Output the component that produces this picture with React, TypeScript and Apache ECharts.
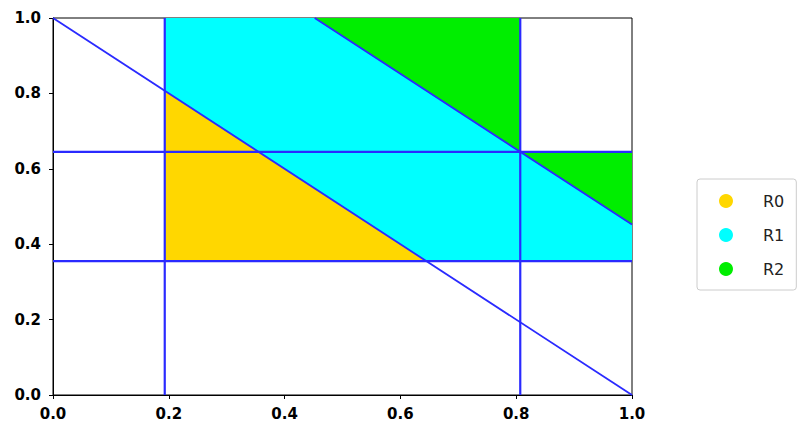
import React, { useEffect, useRef } from "react";
import * as echarts from "echarts";

const tickValues = [0, 0.2, 0.4, 0.6, 0.8, 1.0];
const regionNames = ["R0", "R1", "R2"];
const regionColors = ["#ffd700", "#00ffff", "#00ee00"];
// polygons (x, y) per region
const r0Polygons = [[[0.193, 0.807], [0.193, 0.355], [0.645, 0.355]]];
const r1Polygons = [[[0.193, 1.0], [0.452, 1.0], [1.0, 0.452], [1.0, 0.355], [0.645, 0.355], [0.193, 0.807]]];
const r2Polygons = [
  [[0.452, 1.0], [0.807, 1.0], [0.807, 0.645]],
  [[0.807, 0.645], [1.0, 0.645], [1.0, 0.452]],
];
// boundary lines: [[x1,y1],[x2,y2]]
const boundaryLines = [
  [[0.193, 0], [0.193, 1]],
  [[0.807, 0], [0.807, 1]],
  [[0, 0.355], [1, 0.355]],
  [[0, 0.645], [1, 0.645]],
  [[0, 1], [1, 0]],
  [[0.452, 1], [1, 0.452]],
];
const lineWidths = [2.2, 2.2, 2.2, 2.2, 1.8, 1.8];

export default function App() {
  const ref = useRef<HTMLDivElement>(null);
  useEffect(() => {
    const chart = echarts.init(ref.current!, null, { renderer: "svg" });
    const polys = [r0Polygons, r1Polygons, r2Polygons];
    const regionSeries = regionNames.map((name, i) => ({
      name,
      type: "custom",
      itemStyle: { color: regionColors[i] },
      data: polys[i].map((_, k) => [k]),
      renderItem: (params: any, api: any) => {
        const poly = polys[i][params.dataIndex];
        return {
          type: "polygon",
          shape: { points: poly.map((p) => api.coord(p)) },
          style: { fill: regionColors[i] },
        };
      },
      z: 1,
    }));
    const lineSeries = boundaryLines.map((seg, i) => ({
      type: "line",
      data: seg,
      symbol: "none",
      lineStyle: { color: "#2a2aff", width: lineWidths[i] },
      z: 3,
      silent: true,
    }));
    const axisCommon = {
      type: "value",
      min: 0,
      max: 1,
      interval: 0.2,
      axisLine: { show: true, lineStyle: { color: "#000", width: 1 } },
      axisTick: { show: true, inside: false, length: 4, lineStyle: { color: "#000" } },
      splitLine: { show: false },
      axisLabel: {
        color: "#000",
        fontFamily: "DejaVu Sans",
        fontWeight: "bold",
        fontSize: 15,
        formatter: (v: number) => v.toFixed(1),
      },
    };
    chart.setOption({
      animation: false,
      grid: { left: 53, top: 18, right: 178, bottom: 41, show: true, borderColor: "#000", borderWidth: 1, backgroundColor: "transparent" },
      xAxis: { ...axisCommon, axisLabel: { ...axisCommon.axisLabel, margin: 11 } },
      yAxis: { ...axisCommon, axisLabel: { ...axisCommon.axisLabel, margin: 12 } },
      legend: {
        data: regionNames.map((n, i) => ({ name: n, icon: "circle", itemStyle: { color: regionColors[i] } })),
        orient: "vertical",
        left: 697,
        top: 179,
        itemWidth: 14,
        itemHeight: 14,
        itemGap: 18,
        padding: [14, 12, 13, 22],
        borderColor: "#cccccc",
        borderWidth: 1,
        borderRadius: 3,
        textStyle: { fontFamily: "DejaVu Sans", fontSize: 16, color: "#222", padding: [0, 0, 0, 25] },
      },
      series: [...regionSeries, ...lineSeries],
    });
    return () => chart.dispose();
  }, []);
  return <div ref={ref} style={{ width: 810, height: 436, position: "absolute", left: 0, top: 0 }} />;
}
